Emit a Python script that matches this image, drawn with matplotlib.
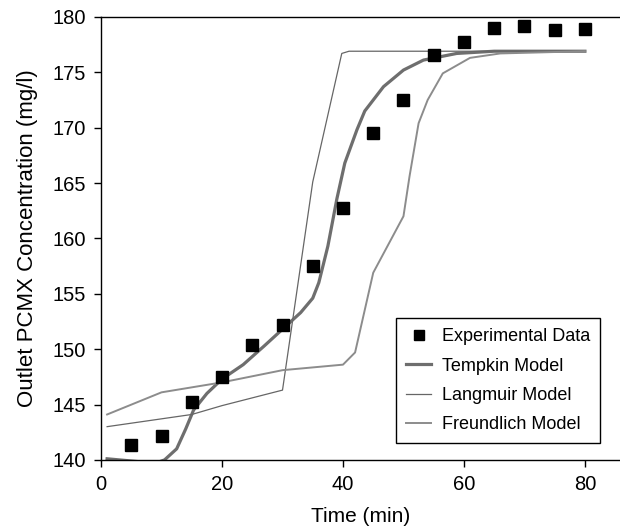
import numpy as np
import matplotlib
matplotlib.use('Agg')
import matplotlib.pyplot as plt

plt.rcParams['font.family'] = ['Liberation Sans', 'DejaVu Sans']

# Experimental data
exp_t = [5, 10, 15, 20, 25, 30, 35, 40, 45, 50, 55, 60, 65, 70, 75, 80]
exp_c = [141.3, 142.2, 145.2, 147.5, 150.4, 152.2, 157.5, 162.7, 169.5,
         172.5, 176.6, 177.7, 179.0, 179.2, 178.8, 178.9]

# Tempkin model
tempkin_t = [1, 5, 9, 10.5, 12.5, 14, 15.3, 17.5, 20, 23.5, 27, 30, 33, 35,
             36, 37.5, 39, 40.3, 42.3, 43.6, 46.7, 50, 53.3, 58.8, 65, 80]
tempkin_c = [140.1, 139.9, 139.7, 140.0, 141.0, 142.8, 144.5, 146.0, 147.3,
             148.6, 150.3, 151.8, 153.3, 154.6, 156.0, 159.3, 163.6, 166.8,
             169.8, 171.5, 173.7, 175.2, 176.1, 176.7, 176.9, 176.9]

# Langmuir model
langmuir_t = [1, 15, 20, 25, 30, 35, 39.8, 41, 80]
langmuir_c = [143.0, 144.1, 144.9, 145.6, 146.3, 165.1, 176.7, 176.9, 176.9]

# Freundlich model
freundlich_t = [1, 10, 20, 30, 40, 42, 45, 50, 51, 52.5, 54, 56.5, 61, 66, 80]
freundlich_c = [144.1, 146.1, 147.0, 148.1, 148.6, 149.7, 156.9, 162.0, 165.6,
                170.4, 172.5, 174.9, 176.3, 176.7, 176.9]

fig = plt.figure(figsize=(6.2, 5.28), dpi=100)
ax = fig.add_axes([0.163, 0.129, 0.837, 0.839])

ax.plot(exp_t, exp_c, linestyle='none', marker='s', markersize=8,
        color='black', label='Experimental Data', zorder=5)
ax.plot(tempkin_t, tempkin_c, color='#6e6e6e', linewidth=2.3,
        label='Tempkin Model')
ax.plot(langmuir_t, langmuir_c, color='#666666', linewidth=0.9,
        label='Langmuir Model')
ax.plot(freundlich_t, freundlich_c, color='#8c8c8c', linewidth=1.4,
        label='Freundlich Model')

ax.set_xlim(0, 85.8)
ax.set_ylim(140, 180)
ax.set_xticks([0, 20, 40, 60, 80])
ax.set_yticks(np.arange(140, 181, 5))
ax.tick_params(direction='out', length=5, width=1, labelsize=14.5, pad=6)
ax.spines['right'].set_visible(False)
for s in ['left', 'top', 'bottom']:
    ax.spines[s].set_linewidth(1)

ax.set_xlabel('Time (min)', fontsize=15, labelpad=9)
ax.set_ylabel('Outlet PCMX Concentration (mg/l)', fontsize=16, labelpad=10)

leg = ax.legend(loc='lower right', bbox_to_anchor=(0.962, 0.038),
                borderaxespad=0, fontsize=13, fancybox=False, framealpha=1,
                edgecolor='black', labelspacing=0.68, handlelength=1.4,
                borderpad=0.55, handletextpad=0.6, markerscale=0.85)
leg.get_frame().set_linewidth(1)

plt.savefig('out.png', dpi=100)
plt.close()
